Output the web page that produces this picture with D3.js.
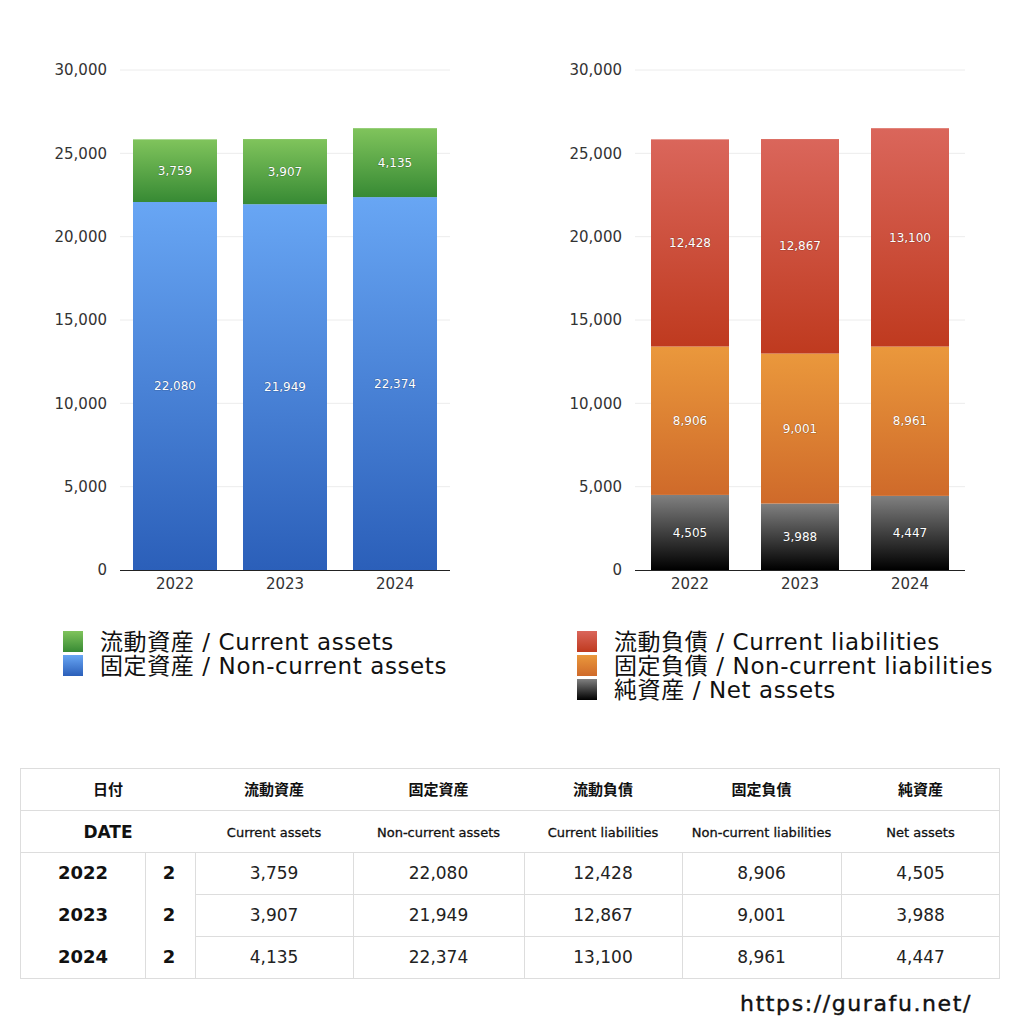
<!DOCTYPE html>
<html><head><meta charset="utf-8">
<script src="https://cdn.jsdelivr.net/npm/d3@7"></script>
<style>
html,body{margin:0;padding:0;background:#fff;}
svg{display:block;font-family:"DejaVu Sans","Noto Sans CJK JP",sans-serif;}
</style></head>
<body>
<svg id="c" width="1024" height="1024"></svg>
<script>
const years = ["2022","2023","2024"];
const currentAssets = [3759, 3907, 4135];
const nonCurrentAssets = [22080, 21949, 22374];
const currentLiabilities = [12428, 12867, 13100];
const nonCurrentLiabilities = [8906, 9001, 8961];
const netAssets = [4505, 3988, 4447];
const yTicks = [0, 5000, 10000, 15000, 20000, 25000, 30000];
const jpLabels = ["流動資産","固定資産","流動負債","固定負債","純資産"];
const enLabels = ["Current assets","Non-current assets","Current liabilities","Non-current liabilities","Net assets"];

const svg = d3.select("#c");
const defs = svg.append("defs");
function grad(id, top, bottom){
  const g = defs.append("linearGradient").attr("id",id).attr("x1",0).attr("y1",0).attr("x2",0).attr("y2",1);
  g.append("stop").attr("offset","0%").attr("stop-color",top);
  g.append("stop").attr("offset","100%").attr("stop-color",bottom);
}
grad("gGreen","#80c45c","#378a34");
grad("gBlue","#68a6f4","#2b5fb9");
grad("gRed","#da665b","#bf3a1f");
grad("gOrange","#ea983c","#cf6a2a");
grad("gBlack","#808080","#000000");

const fmt = d3.format(",");
const y = d3.scaleLinear().domain([0,30000]).range([570,70]);

function chart(x0, x1, barW, series, labelX){
  const x = d3.scaleBand().domain(years).range([x0,x1]);
  const g = svg.append("g");
  g.selectAll(".grid").data(yTicks.filter(t=>t>0)).enter().append("line")
    .attr("x1",x0).attr("x2",x1).attr("y1",d=>y(d)).attr("y2",d=>y(d))
    .attr("stroke","#ececec").attr("stroke-width",1);
  g.selectAll(".yl").data(yTicks).enter().append("text")
    .attr("x",labelX).attr("y",d=>y(d)).attr("dy","0.35em").attr("text-anchor","end")
    .attr("font-size",15).attr("fill","#333").text(d=>fmt(d));
  const data = years.map((yr,i)=>{const o={year:yr}; series.forEach((s,k)=>o["s"+k]=s.values[i]); return o;});
  const stack = d3.stack().keys(series.map((s,k)=>"s"+k))(data);
  stack.forEach((layer,k)=>{
    const s = series[k];
    const lg = g.append("g");
    lg.selectAll("rect").data(layer).enter().append("rect")
      .attr("x",d=>x(d.data.year)+(x.bandwidth()-barW)/2).attr("width",barW)
      .attr("y",d=>y(d[1])).attr("height",d=>y(d[0])-y(d[1]))
      .attr("fill","url(#"+s.grad+")");
    lg.selectAll("text").data(layer).enter().append("text")
      .attr("x",d=>x(d.data.year)+x.bandwidth()/2)
      .attr("y",d=>(y(d[0])+y(d[1]))/2).attr("dy","0.35em")
      .attr("text-anchor","middle").attr("font-size",12).attr("fill","#fff")
      .attr("style","paint-order:stroke;stroke:rgba(0,0,0,0.22);stroke-width:1.2px")
      .text(d=>fmt(d[1]-d[0]));
  });
  g.append("line").attr("x1",x0).attr("x2",x1).attr("y1",570.5).attr("y2",570.5).attr("stroke","#222").attr("stroke-width",1.2);
  g.selectAll(".xl").data(years).enter().append("text")
    .attr("x",d=>x(d)+x.bandwidth()/2).attr("y",584).attr("dy","0.35em").attr("text-anchor","middle")
    .attr("font-size",15).attr("fill","#333").text(d=>d);
}

chart(120,450,84,[
  {values:nonCurrentAssets, grad:"gBlue"},
  {values:currentAssets, grad:"gGreen"}
],107);
chart(635,965,78,[
  {values:netAssets, grad:"gBlack"},
  {values:nonCurrentLiabilities, grad:"gOrange"},
  {values:currentLiabilities, grad:"gRed"}
],622);

function legend(x, yStart, items){
  const g = svg.append("g");
  items.forEach((it,i)=>{
    const yy = yStart + i*24;
    g.append("rect").attr("x",x).attr("y",yy).attr("width",20).attr("height",21).attr("fill","url(#"+it.grad+")");
    g.append("text").attr("x",x+37).attr("y",yy+11).attr("dy","0.35em").attr("font-size",23).attr("letter-spacing",0.6).attr("fill","#111").text(it.label);
  });
}
legend(63,631,[
  {grad:"gGreen", label:jpLabels[0]+" / "+enLabels[0]},
  {grad:"gBlue", label:jpLabels[1]+" / "+enLabels[1]}
]);
legend(577,631,[
  {grad:"gRed", label:jpLabels[2]+" / "+enLabels[2]},
  {grad:"gOrange", label:jpLabels[3]+" / "+enLabels[3]},
  {grad:"gBlack", label:jpLabels[4]+" / "+enLabels[4]}
]);

const tg = svg.append("g");
const colX = [195,353,524,682,841,1000];
const rowY = [768,810,852,894,936,978];
const lc = "#dddddd";
tg.append("rect").attr("x",20.5).attr("y",768.5).attr("width",979).attr("height",210).attr("fill","none").attr("stroke",lc);
[810,852].forEach(v=>tg.append("line").attr("x1",20).attr("x2",1000).attr("y1",v+0.5).attr("y2",v+0.5).attr("stroke",lc));
[894,936].forEach(v=>tg.append("line").attr("x1",195).attr("x2",1000).attr("y1",v+0.5).attr("y2",v+0.5).attr("stroke",lc));
[145].concat(colX.slice(0,5)).forEach(v=>tg.append("line").attr("x1",v+0.5).attr("x2",v+0.5).attr("y1",852).attr("y2",978).attr("stroke",lc));
tg.append("text").attr("x",108).attr("y",790).attr("dy","0.35em").attr("text-anchor","middle").attr("font-size",15).attr("font-weight",700).attr("fill","#111").text("日付");
tg.append("text").attr("x",108).attr("y",832).attr("dy","0.35em").attr("text-anchor","middle").attr("font-size",17).attr("font-weight",700).attr("fill","#111").text("DATE");
const cols = [currentAssets, nonCurrentAssets, currentLiabilities, nonCurrentLiabilities, netAssets];
cols.forEach((vals,c)=>{
  const cx = (colX[c]+colX[c+1])/2;
  tg.append("text").attr("x",cx).attr("y",790).attr("dy","0.35em").attr("text-anchor","middle").attr("font-size",15).attr("font-weight",700).attr("fill","#111").text(jpLabels[c]);
  tg.append("text").attr("x",cx).attr("y",832).attr("dy","0.35em").attr("text-anchor","middle").attr("font-size",13).attr("fill","#111")
    .attr("stroke","#111").attr("stroke-width",0.3).text(enLabels[c]);
  vals.forEach((v,r)=>{
    tg.append("text").attr("x",cx).attr("y",(rowY[r+2]+rowY[r+3])/2).attr("dy","0.35em").attr("text-anchor","middle").attr("font-size",17).attr("fill","#222").text(fmt(v));
  });
});
years.forEach((yr,r)=>{
  const cy = (rowY[r+2]+rowY[r+3])/2;
  tg.append("text").attr("x",83).attr("y",cy).attr("dy","0.35em").attr("text-anchor","middle").attr("font-size",18).attr("font-weight",700).attr("fill","#111").text(yr);
  tg.append("text").attr("x",169).attr("y",cy).attr("dy","0.35em").attr("text-anchor","middle").attr("font-size",18).attr("font-weight",700).attr("fill","#111").text("2");
});

svg.append("text").attr("x",972).attr("y",1003).attr("dy","0.35em").attr("text-anchor","end").attr("font-size",22).attr("letter-spacing",1.6).attr("fill","#111")
  .attr("stroke","#111").attr("stroke-width",0.4).text("https://gurafu.net/");
</script>
</body></html>
